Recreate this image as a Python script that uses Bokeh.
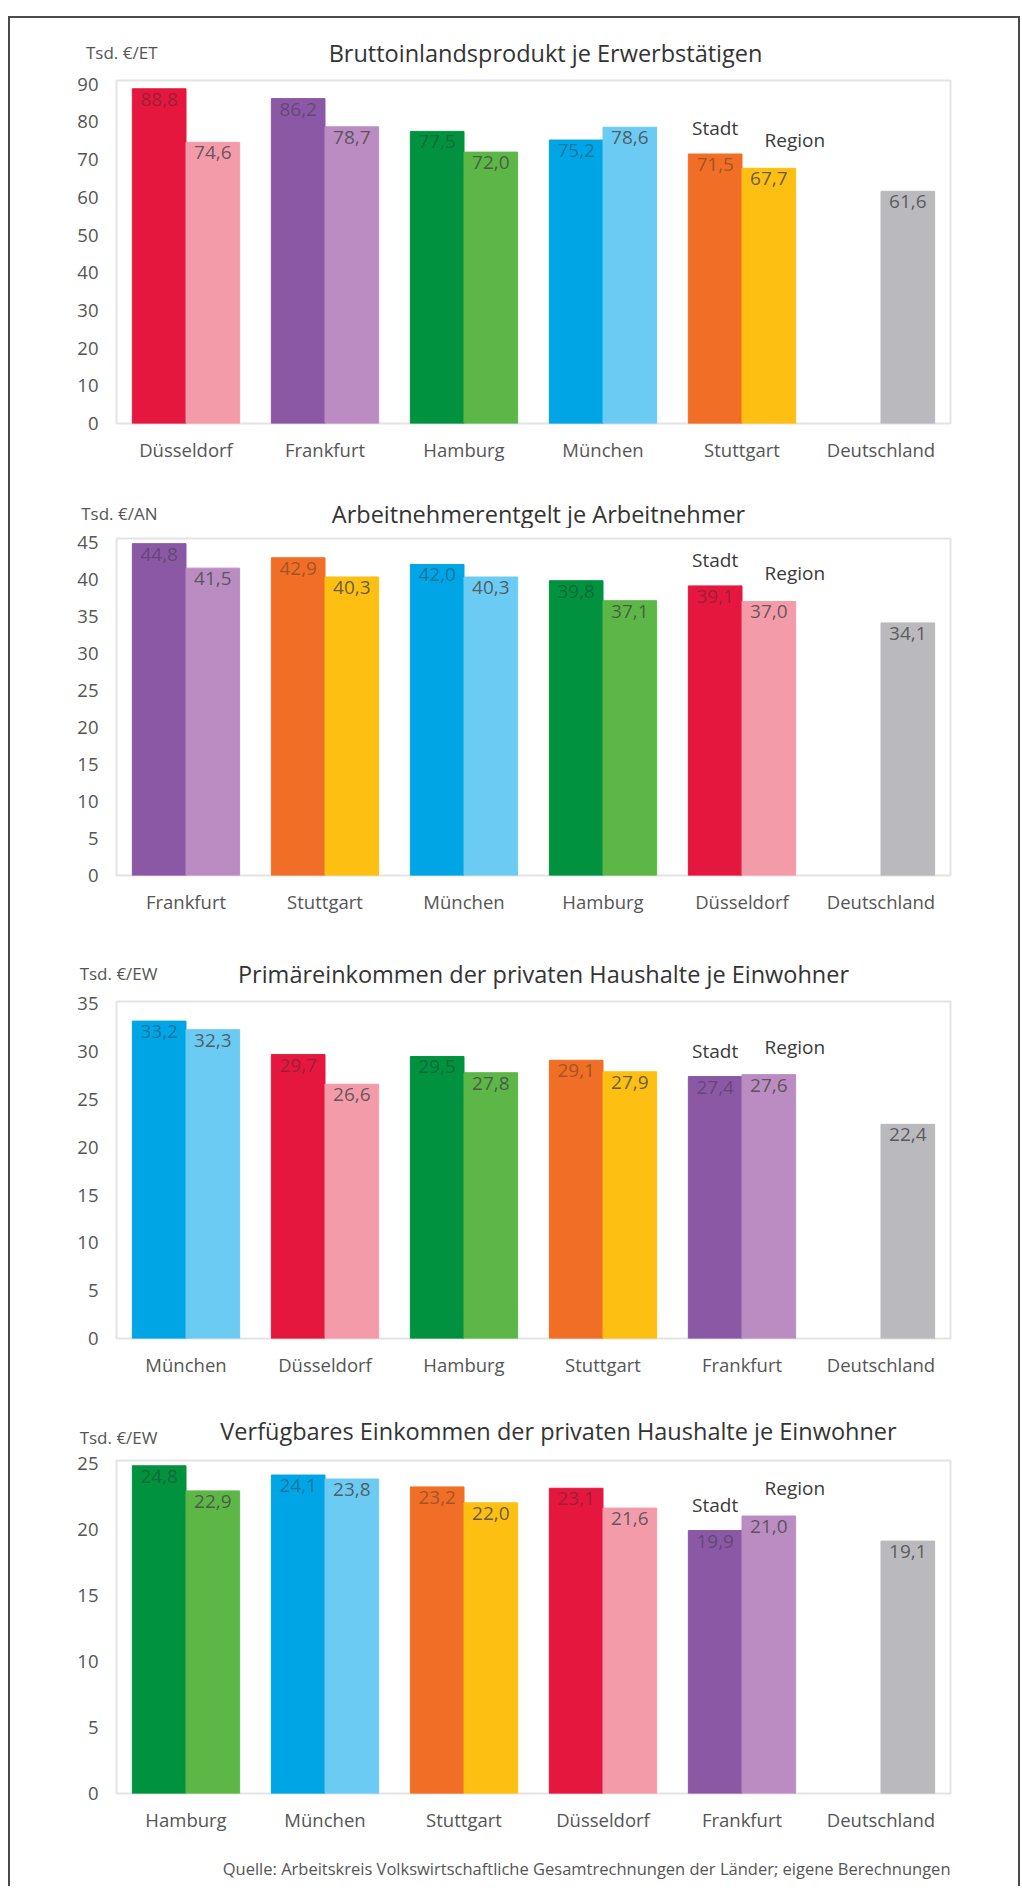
from bokeh.plotting import figure
from bokeh.models import ColumnDataSource, Range1d, FixedTicker
from bokeh.transform import dodge
from bokeh.layouts import column
from bokeh.embed import file_html
from bokeh.resources import INLINE
from bokeh.core.properties import value

FONT = "Open Sans"

# ---------------- data ----------------
c1_title = "Bruttoinlandsprodukt je Erwerbstätigen"
c1_unit = "Tsd. €/ET"
c1_cities = ["Düsseldorf", "Frankfurt", "Hamburg", "München", "Stuttgart", "Deutschland"]
c1_stadt = [88.8, 86.2, 77.5, 75.2, 71.5]
c1_region = [74.6, 78.7, 72.0, 78.6, 67.7, 61.6]
c1_ticks = [0, 10, 20, 30, 40, 50, 60, 70, 80, 90]

c2_title = "Arbeitnehmerentgelt je Arbeitnehmer"
c2_unit = "Tsd. €/AN"
c2_cities = ["Frankfurt", "Stuttgart", "München", "Hamburg", "Düsseldorf", "Deutschland"]
c2_stadt = [44.8, 42.9, 42.0, 39.8, 39.1]
c2_region = [41.5, 40.3, 40.3, 37.1, 37.0, 34.1]
c2_ticks = [0, 5, 10, 15, 20, 25, 30, 35, 40, 45]

c3_title = "Primäreinkommen der privaten Haushalte je Einwohner"
c3_unit = "Tsd. €/EW"
c3_cities = ["München", "Düsseldorf", "Hamburg", "Stuttgart", "Frankfurt", "Deutschland"]
c3_stadt = [33.2, 29.7, 29.5, 29.1, 27.4]
c3_region = [32.3, 26.6, 27.8, 27.9, 27.6, 22.4]
c3_ticks = [0, 5, 10, 15, 20, 25, 30, 35]

c4_title = "Verfügbares Einkommen der privaten Haushalte je Einwohner"
c4_unit = "Tsd. €/EW"
c4_cities = ["Hamburg", "München", "Stuttgart", "Düsseldorf", "Frankfurt", "Deutschland"]
c4_stadt = [24.8, 24.1, 23.2, 23.1, 19.9]
c4_region = [22.9, 23.8, 22.0, 21.6, 21.0, 19.1]
c4_ticks = [0, 5, 10, 15, 20, 25]

source_text = "Quelle: Arbeitskreis Volkswirtschaftliche Gesamtrechnungen der Länder; eigene Berechnungen"

STADT_COLORS = {
    "Düsseldorf": "#E5173F", "Frankfurt": "#8A58A5", "Hamburg": "#00923F",
    "München": "#00A5E5", "Stuttgart": "#F06E26",
}
REGION_COLORS = {
    "Düsseldorf": "#F49BAA", "Frankfurt": "#BA8CC2", "Hamburg": "#5CB747",
    "München": "#6CCBF2", "Stuttgart": "#FDBF12", "Deutschland": "#B9B9BE",
}

FIG_W = 1008
FRAME_LEFT = 106
FRAME_W = 834
PAGE_L = 116                 # page x of the plot frames (all frames are aligned)
PAGE_R = PAGE_L + FRAME_W


def fmt(v):
    return f"{v:.1f}".replace(".", ",")


def strip(height):
    p = figure(width=FIG_W, height=height, x_range=Range1d(PAGE_L, PAGE_R),
               y_range=Range1d(0, height), min_border=0,
               x_axis_location=None,
               output_backend="svg", toolbar_location=None)
    p.grid.visible = False
    p.outline_line_color = None
    return p


def header(height, unit, unit_y, title, title_y, title_cx):
    p = strip(height)
    # unit text carried by the strip's own y axis (so it may reach left of the frame)
    p.yaxis.ticker = FixedTicker(ticks=[unit_y])
    p.yaxis.major_label_overrides = {int(unit_y): unit}
    p.yaxis.axis_line_color = None
    p.yaxis.major_tick_line_color = None
    p.yaxis.minor_tick_line_color = None
    p.yaxis.major_tick_out = 0
    p.yaxis.major_tick_in = 0
    p.yaxis.major_label_standoff = -41
    p.yaxis.major_label_text_font = FONT
    p.yaxis.major_label_text_font_size = "17px"
    p.yaxis.major_label_text_color = "#555555"
    src = ColumnDataSource(dict(x=[title_cx], y=[title_y], t=[title]))
    p.text(x="x", y="y", text="t", source=src, text_align="center",
           text_baseline="middle", text_font=value(FONT),
           text_font_size="23.5px", text_color="#333333")
    return p


def footer(height, text, y):
    p = strip(height)
    p.yaxis.visible = False
    src = ColumnDataSource(dict(x=[PAGE_R], y=[y], t=[text]))
    p.text(x="x", y="y", text="t", source=src, text_align="right",
           text_baseline="middle", text_font=value(FONT),
           text_font_size="16.5px", text_color="#555555")
    return p


def make_chart(cities, stadt, region, ticks, ymax, frame_h, bottom):
    top = 10
    p = figure(x_range=cities, y_range=Range1d(0, ymax), width=FIG_W,
               height=top + frame_h + bottom,
               min_border_left=FRAME_LEFT, min_border_right=FIG_W - FRAME_LEFT - FRAME_W,
               min_border_top=top, min_border_bottom=bottom,
               output_backend="svg", toolbar_location=None)
    p.x_range.range_padding = 0
    p.xgrid.visible = False
    p.ygrid.visible = False
    p.outline_line_color = "#e4e4e4"
    p.outline_line_width = 2

    p.yaxis.ticker = FixedTicker(ticks=ticks)
    for ax in (p.xaxis, p.yaxis):
        ax.axis_line_color = None
        ax.major_tick_line_color = None
        ax.minor_tick_line_color = None
        ax.major_label_text_font = FONT
        ax.major_label_text_color = "#555555"
        ax.major_label_text_font_size = "18.5px"
    p.yaxis.major_label_standoff = 12
    p.xaxis.major_label_standoff = 7

    n = len(stadt)
    s_src = ColumnDataSource(dict(
        city=cities[:n], val=stadt, lbl=[fmt(v) for v in stadt],
        color=[STADT_COLORS[c] for c in cities[:n]]))
    r_src = ColumnDataSource(dict(
        city=cities, val=region, lbl=[fmt(v) for v in region],
        color=[REGION_COLORS[c] for c in cities]))

    off = 0.193
    w = 0.386
    p.vbar(x=dodge("city", -off, range=p.x_range), top="val", width=w, bottom=0,
           fill_color="color", line_color="color", source=s_src)
    p.vbar(x=dodge("city", off, range=p.x_range), top="val", width=w, bottom=0,
           fill_color="color", line_color="color", source=r_src)

    p.text(x=dodge("city", -off, range=p.x_range), y="val", text="lbl", source=s_src,
           text_align="center", text_baseline="top", y_offset=4,
           text_font=value(FONT), text_font_size="19px",
           text_color="#2a2a2a", text_alpha=0.4)
    p.text(x=dodge("city", off, range=p.x_range), y="val", text="lbl", source=r_src,
           text_align="center", text_baseline="top", y_offset=4,
           text_font=value(FONT), text_font_size="19px",
           text_color="#4a4a4a", text_alpha=0.85)

    # "Stadt" / "Region" markers above the fifth pair
    k = 4
    ann_s = ColumnDataSource(dict(city=[cities[k]], val=[stadt[k]], t=["Stadt"]))
    ann_r = ColumnDataSource(dict(city=[cities[k]], val=[region[k]], t=["Region"]))
    p.text(x=dodge("city", -off, range=p.x_range), y="val", text="t", source=ann_s,
           text_align="center", text_baseline="middle", y_offset=-26,
           text_font=value(FONT), text_font_size="19px", text_color="#3a3a3a")
    p.text(x=dodge("city", off, range=p.x_range), y="val", text="t", source=ann_r,
           text_align="center", text_baseline="middle", y_offset=-28, x_offset=26,
           text_font=value(FONT), text_font_size="19px", text_color="#3a3a3a")
    return p


h1 = header(52, c1_unit, 18, c1_title, 18, 545)
p1 = make_chart(c1_cities, c1_stadt, c1_region, c1_ticks, 91.0, 343, 47)
h2 = header(58, c2_unit, 15, c2_title, 15, 538)
p2 = make_chart(c2_cities, c2_stadt, c2_region, c2_ticks, 45.5, 337, 55)
h3 = header(61, c3_unit, 18, c3_title, 18, 543)
p3 = make_chart(c3_cities, c3_stadt, c3_region, c3_ticks, 35.25, 337, 57)
h4 = header(55, c4_unit, 13, c4_title, 20, 558)
p4 = make_chart(c4_cities, c4_stadt, c4_region, c4_ticks, 25.2, 337, 37)
foot = footer(52, source_text, 18)

layout = column(h1, p1, h2, p2, h3, p3, h4, p4, foot, spacing=0,
                margin=(16, 0, 0, 8),
                styles={"border-left": "2px solid #4a4a4a",
                        "border-right": "2px solid #4a4a4a",
                        "border-top": "2px solid #4a4a4a",
                        "background": "white"})

open("out.html", "w").write(file_html(layout, INLINE))
